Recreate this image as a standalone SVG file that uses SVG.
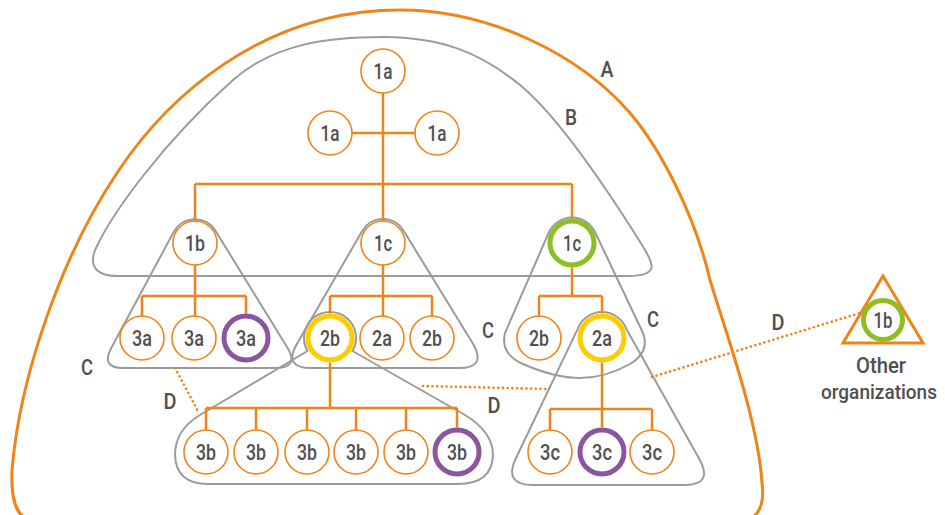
<svg xmlns="http://www.w3.org/2000/svg" width="945" height="515" viewBox="0 0 945 515">
<style>
.o{fill:none;stroke:#EF8419;stroke-width:2.5}
.g{fill:none;stroke:#9B9B9B;stroke-width:2}
.n{fill:#fff;stroke:#EF8419;stroke-width:1.6}
.ng{fill:#fff;stroke:#8DBE22;stroke-width:5}
.ny{fill:#fff;stroke:#FFCC00;stroke-width:5}
.np{fill:#fff;stroke:#8B559F;stroke-width:5}
.dot{fill:none;stroke:#EF8419;stroke-width:2.6;stroke-dasharray:0.1 4.6;stroke-linecap:round}
.t{font-family:Roboto,"Liberation Sans",sans-serif;font-size:22px;font-weight:500;fill:#505050;text-anchor:middle}
</style>
<rect width="945" height="515" fill="#fff"/>
<g id="container-A">
<path class="o" style="stroke-width:3" d="M30,520 C14,516 11,495 12,470 C20,375 62,255 117,173 C165,100 260,10 400,10 C490,10 580,55 630,113 C660,148 695,215 710,280 C725,330 758,420 762,483 C765,505 758,518 745,520 Z"/>
<text class="t" x="607" y="77" textLength="13" lengthAdjust="spacingAndGlyphs">A</text>
</g>
<g id="container-B">
<path class="g" d="M383,37 C440,37 480,52 520,85 C560,118 612,197 642,245 C654,264 660,276 628,276 L118,276 C92,276 88,262 98,244 C112,215 160,145 233,80 C275,43 330,37 383,37 Z"/>
<text class="t" x="571" y="125" textLength="12" lengthAdjust="spacingAndGlyphs">B</text>
</g>
<g id="container-C1">
<path class="g" d="M173.8,231.8 A24,24 0 0 1 215,230 L287,347 Q300,368 275,368 L123,368 Q101,368 111,348.5 Z"/>
<text class="t" x="87" y="375" textLength="12" lengthAdjust="spacingAndGlyphs">C</text>
</g>
<g id="container-C2">
<path class="g" d="M362.2,231 A24,24 0 0 1 403.8,231 L473,343.8 Q487,368 459,368 L311,368 Q283,368 297,343.8 Z"/>
<text class="t" x="488" y="338" textLength="12" lengthAdjust="spacingAndGlyphs">C</text>
</g>
<g id="container-C3">
<path class="g" d="M548.8,232.5 A25.5,25.5 0 0 1 594.9,231.8 L643,333 Q650,352 630,364 Q605,378 580,378 Q555,378 523,364 Q500,354 505,333 Z"/>
<text class="t" x="653" y="327" textLength="12" lengthAdjust="spacingAndGlyphs">C</text>
</g>
<g id="container-D1">
<path class="g" d="M307.5,351 A26,26 0 1 1 352.5,351 L465,415 Q493,432 493,455 Q492,484 458,484 L208,484 Q176,484 175,455 Q175,430 200,415 Z"/>
</g>
<g id="container-D2">
<path class="g" d="M577.6,329.1 A26,26 0 0 1 626.4,329.1 L699.3,459 Q714,485 684,485 L533,485 Q503,485 516,458 Z"/>
</g>
<g id="links-D">
<path class="dot" d="M175,368 L199,413"/>
<path class="dot" d="M423,386 L548,389"/>
<path class="dot" d="M652,377 L860,313"/>
<text class="t" x="170" y="409" textLength="13" lengthAdjust="spacingAndGlyphs">D</text>
<text class="t" x="494" y="413" textLength="13" lengthAdjust="spacingAndGlyphs">D</text>
<text class="t" x="778" y="330" textLength="13" lengthAdjust="spacingAndGlyphs">D</text>
</g>
<g id="connectors" class="o">
<path d="M383,93 V221 M352,133 H415"/>
<path d="M195,184 H572 M195,184 V221 M572,184 V218.5"/>
<path d="M195,265 V316 M142,296 H246 M142,296 V316 M246,296 V313.5"/>
<path d="M383,265 V316 M330,296 H432 M330,296 V313.5 M432,296 V316"/>
<path d="M572,267.5 V296 M539,296 H602 M539,296 V316 M602,296 V313.5"/>
<path d="M330,362.5 V408 M206,408 H457 M206,408 V430 M256,408 V430 M307,408 V430 M356,408 V430 M406,408 V430 M457,408 V427.5"/>
<path d="M602,362.5 V427.5 M550,409 H652 M550,409 V430 M652,409 V430"/>
</g>
<g id="n1a-top"><circle class="n" cx="383" cy="71" r="22"/><text class="t" x="383" y="79" textLength="19" lengthAdjust="spacingAndGlyphs">1a</text></g>
<g id="n1a-left"><circle class="n" cx="330" cy="133" r="22"/><text class="t" x="330" y="141" textLength="19" lengthAdjust="spacingAndGlyphs">1a</text></g>
<g id="n1a-right"><circle class="n" cx="437" cy="133" r="22"/><text class="t" x="437" y="141" textLength="19" lengthAdjust="spacingAndGlyphs">1a</text></g>
<g id="n1b"><circle class="n" cx="195" cy="243" r="22"/><text class="t" x="195" y="251" textLength="20" lengthAdjust="spacingAndGlyphs">1b</text></g>
<g id="n1c-mid"><circle class="n" cx="383" cy="243" r="22"/><text class="t" x="383" y="251" textLength="18" lengthAdjust="spacingAndGlyphs">1c</text></g>
<g id="n1c-green"><circle class="ng" cx="572" cy="243" r="22"/><text class="t" x="572" y="251" textLength="18" lengthAdjust="spacingAndGlyphs">1c</text></g>
<g id="n3a-1"><circle class="n" cx="142" cy="338" r="22"/><text class="t" x="142" y="346" textLength="20" lengthAdjust="spacingAndGlyphs">3a</text></g>
<g id="n3a-2"><circle class="n" cx="194" cy="338" r="22"/><text class="t" x="194" y="346" textLength="20" lengthAdjust="spacingAndGlyphs">3a</text></g>
<g id="n3a-3"><circle class="np" cx="246" cy="338" r="22"/><text class="t" x="246" y="346" textLength="20" lengthAdjust="spacingAndGlyphs">3a</text></g>
<g id="n2b-yellow"><circle class="ny" cx="330" cy="338" r="22"/><text class="t" x="330" y="346" textLength="20" lengthAdjust="spacingAndGlyphs">2b</text></g>
<g id="n2a-mid"><circle class="n" cx="382" cy="338" r="22"/><text class="t" x="382" y="346" textLength="20" lengthAdjust="spacingAndGlyphs">2a</text></g>
<g id="n2b-mid"><circle class="n" cx="432" cy="338" r="22"/><text class="t" x="432" y="346" textLength="20" lengthAdjust="spacingAndGlyphs">2b</text></g>
<g id="n2b-right"><circle class="n" cx="539" cy="338" r="22"/><text class="t" x="539" y="346" textLength="20" lengthAdjust="spacingAndGlyphs">2b</text></g>
<g id="n2a-yellow"><circle class="ny" cx="602" cy="338" r="22"/><text class="t" x="602" y="346" textLength="20" lengthAdjust="spacingAndGlyphs">2a</text></g>
<g id="n3b-1"><circle class="n" cx="206" cy="452" r="22"/><text class="t" x="206" y="460" textLength="20" lengthAdjust="spacingAndGlyphs">3b</text></g>
<g id="n3b-2"><circle class="n" cx="256" cy="452" r="22"/><text class="t" x="256" y="460" textLength="20" lengthAdjust="spacingAndGlyphs">3b</text></g>
<g id="n3b-3"><circle class="n" cx="307" cy="452" r="22"/><text class="t" x="307" y="460" textLength="20" lengthAdjust="spacingAndGlyphs">3b</text></g>
<g id="n3b-4"><circle class="n" cx="356" cy="452" r="22"/><text class="t" x="356" y="460" textLength="20" lengthAdjust="spacingAndGlyphs">3b</text></g>
<g id="n3b-5"><circle class="n" cx="406" cy="452" r="22"/><text class="t" x="406" y="460" textLength="20" lengthAdjust="spacingAndGlyphs">3b</text></g>
<g id="n3b-6"><circle class="np" cx="457" cy="452" r="22"/><text class="t" x="457" y="460" textLength="20" lengthAdjust="spacingAndGlyphs">3b</text></g>
<g id="n3c-1"><circle class="n" cx="550" cy="452" r="22"/><text class="t" x="550" y="460" textLength="20" lengthAdjust="spacingAndGlyphs">3c</text></g>
<g id="n3c-2"><circle class="np" cx="602" cy="452" r="22"/><text class="t" x="602" y="460" textLength="20" lengthAdjust="spacingAndGlyphs">3c</text></g>
<g id="n3c-3"><circle class="n" cx="652" cy="452" r="22"/><text class="t" x="652" y="460" textLength="20" lengthAdjust="spacingAndGlyphs">3c</text></g>
<g id="other-organizations">
<path class="o" style="stroke-width:3" d="M883,276 L923,343 L843,343 Z"/>
<circle class="ng" cx="883" cy="320" r="19.5"/>
<text class="t" x="883" y="328" textLength="19" lengthAdjust="spacingAndGlyphs">1b</text>
<text class="t" x="881" y="373" textLength="50" lengthAdjust="spacingAndGlyphs">Other</text>
<text class="t" x="879" y="399" style="font-size:20.5px" textLength="116" lengthAdjust="spacingAndGlyphs">organizations</text>
</g>
</svg>
